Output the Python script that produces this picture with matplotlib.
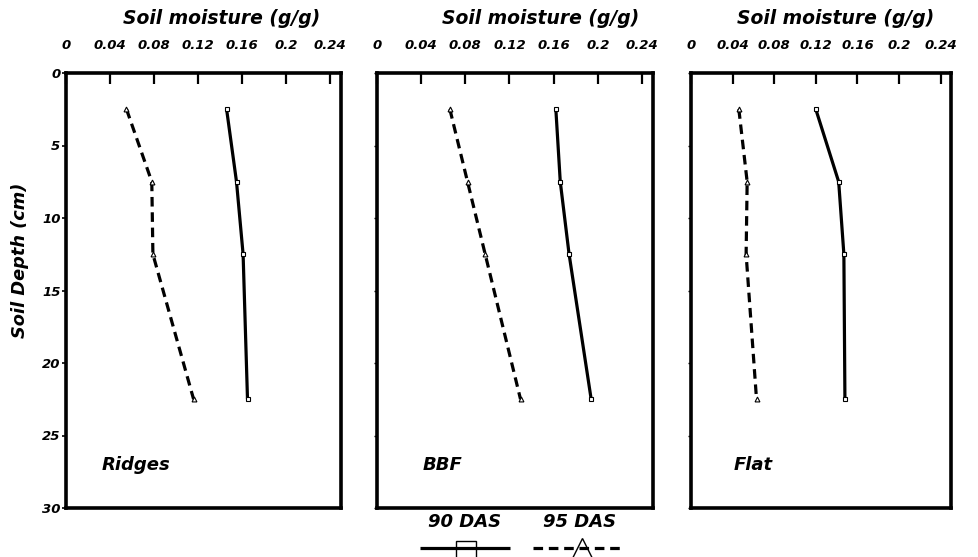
import matplotlib
matplotlib.use("Agg")
import matplotlib.pyplot as plt

plt.rcParams['font.family'] = ['DejaVu Sans']
plt.rcParams['font.weight'] = 'bold'
plt.rcParams['font.style'] = 'italic'

# Sampling depths (cm) and soil moisture (g/g) per land treatment
depth = [2.5, 7.5, 12.5, 22.5]
treatments = ["Ridges", "BBF", "Flat"]
das90 = {
    "Ridges": [0.146, 0.155, 0.161, 0.165],
    "BBF":    [0.162, 0.166, 0.174, 0.194],
    "Flat":   [0.120, 0.142, 0.147, 0.148],
}
das95 = {
    "Ridges": [0.055, 0.078, 0.079, 0.116],
    "BBF":    [0.066, 0.082, 0.098, 0.130],
    "Flat":   [0.046, 0.054, 0.053, 0.063],
}
x_ticks = [0, 0.04, 0.08, 0.12, 0.16, 0.2, 0.24]
x_tick_labels = ["0", "0.04", "0.08", "0.12", "0.16", "0.2", "0.24"]
y_ticks = [0, 5, 10, 15, 20, 25, 30]
legend_labels = ["90 DAS", "95 DAS"]

W, H = 979, 557
fig = plt.figure(figsize=(W / 100, H / 100), dpi=100)

# panel boxes in pixels: left, right ; top, bottom shared
panel_px = [(66, 341), (377, 653), (691, 951)]
top_px, bot_px = 73, 508
title_x = [0.567, 0.594, 0.556]
label_x = [0.131, 0.167, 0.165]

dash_style = (3.0, 1.8)

for i, name in enumerate(treatments):
    l, r = panel_px[i]
    ax = fig.add_axes([l / W, 1 - bot_px / H, (r - l) / W, (bot_px - top_px) / H])
    ax.plot(das90[name], depth, color='black', lw=2.3, marker='s', ms=3,
            mfc='white', mec='black', mew=0.8, solid_capstyle='butt')
    ax.plot(das95[name], depth, color='black', lw=2.3, ls='--', dashes=dash_style,
            marker='^', ms=3.5, mfc='white', mec='black', mew=0.8)
    ax.set_xlim(0, 0.25)
    ax.set_ylim(30, 0)
    for sp in ax.spines.values():
        sp.set_linewidth(2.6)
    ax.xaxis.tick_top()
    ax.set_xticks(x_ticks)
    ax.set_xticklabels(x_tick_labels)
    ax.tick_params(axis='x', direction='in', length=8, width=1.6, pad=15,
                   labelsize=9.5)
    ax.set_yticks(y_ticks)
    if i == 0:
        ax.set_yticklabels([str(v) for v in y_ticks])
        ax.tick_params(axis='y', direction='out', length=3, width=1.2, pad=1,
                       labelsize=9.5)
        ax.text(-0.167, 0.57, "Soil Depth (cm)", transform=ax.transAxes,
                rotation=90, ha='center', va='center', fontsize=12.8)
    else:
        ax.set_yticklabels([])
        ax.tick_params(axis='y', direction='out', length=2, width=1.0)
    ax.text(title_x[i], 1.125, "Soil moisture (g/g)", transform=ax.transAxes,
            ha='center', va='center', fontsize=13.5)
    ax.text(label_x[i], 0.099, name, transform=ax.transAxes,
            ha='left', va='center', fontsize=13)

# key below the middle panel, laid out in pixel coordinates
lax = fig.add_axes([0, 0, 1, 1 - 490 / H])
lax.set_xlim(0, W)
lax.set_ylim(H, 490)
lax.axis('off')
lax.plot([420, 510], [548, 548], color='black', lw=2.3, solid_capstyle='butt')
lax.plot([466], [551], marker='s', ms=15, mfc='none', mec='black', mew=1.0,
         clip_on=False)
lax.plot([533, 625], [548, 548], color='black', lw=2.3, ls='--',
         dashes=dash_style)
lax.plot([582], [552], marker='^', ms=20, mfc='none', mec='black', mew=1.0,
         clip_on=False)
lax.text(465, 522, legend_labels[0], ha='center', va='center', fontsize=13)
lax.text(580, 522, legend_labels[1], ha='center', va='center', fontsize=13)

fig.savefig("out.png", dpi=100, facecolor='white')
